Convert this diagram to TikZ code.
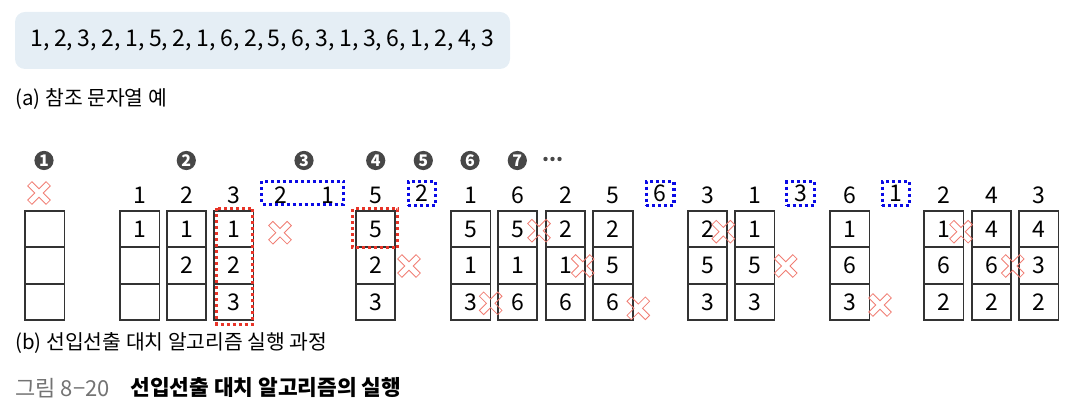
\documentclass[tikz,border=0pt]{standalone}
\usepackage{fontspec}
\setmainfont{Noto Sans CJK KR}
\definecolor{seqbg}{RGB}{229,238,245}
\definecolor{dotred}{RGB}{232,52,40}
\definecolor{dotblue}{RGB}{10,10,230}
\definecolor{xpink}{RGB}{240,125,115}
\begin{document}
\begin{tikzpicture}[x=0.5pt,y=-0.5pt,
	cell/.style={draw=black!80,line width=0.9pt,minimum width=19.75pt,minimum height=18.2pt,inner sep=0pt,font=\fontsize{11.5}{11.5}\selectfont},
	ref/.style={inner sep=0pt,font=\fontsize{11.5}{11.5}\selectfont},
	stepno/.style={circle,fill=black!72,text=white,minimum size=9.6pt,inner sep=0pt,font=\fontsize{8}{8}\selectfont\bfseries},
	redbox/.style={draw=dotred,line width=1.6pt,dash pattern=on 1.5pt off 1.5pt},
	bluebox/.style={draw=dotblue,line width=1.6pt,dash pattern=on 1.5pt off 1.5pt},
	xline/.style={draw=xpink,line width=0.4pt,line join=miter},
	crossout/.pic={\draw[xline,rotate=45] (-3,-13) -- (3,-13) -- (3,-3) -- (13,-3) -- (13,3) -- (3,3)
		-- (3,13) -- (-3,13) -- (-3,3) -- (-13,3) -- (-13,-3) -- (-3,-3) -- cycle;},
	caption/.style={anchor=west,inner sep=0pt,font=\fontsize{10.2}{10.2}\selectfont}]
\useasboundingbox (0,0) rectangle (1072,410);
\node[fill=seqbg,rounded corners=5pt,minimum width=247.5pt,minimum height=28.5pt,
	font=\fontsize{11.5}{11.5}\selectfont] (seq) at (262.5,40.5)
	{\spaceskip=2.3pt\relax 1, 2, 3, 2, 1, 5, 2, 1, 6, 2, 5, 6, 3, 1, 3, 6, 1, 2, 4, 3};
\node[caption] (capa) at (15,99) {(a) 참조 문자열 예};
\foreach \n/\x/\lab/\a/\b/\c in {1/25/{}/{}/{}/{},2/120/1/1/{}/{},3/166.7/2/1/2/{},4/214/3/1/2/3,
	5/355.7/5/5/2/3,6/451/1/5/1/3,7/497.7/6/5/1/6,8/545.7/2/2/1/6,9/593.3/5/2/5/6,
	10/687.7/3/2/5/3,11/735/1/1/5/3,12/830/6/1/6/3,13/924/2/1/6/2,14/971.7/4/4/6/2,15/1019/3/4/3/2}
{
	\node[cell] (f\n-1) at (\x+19.75,229.2) {\a};
	\node[cell] (f\n-2) at (\x+19.75,265.6) {\b};
	\node[cell] (f\n-3) at (\x+19.75,302) {\c};
	\node[ref] (r\n) at (\x+19.75,195.5) {\lab};
}
\node[ref] (h3a) at (281,195.5) {2};
\node[ref] (h3b) at (328,195.5) {1};
\draw[bluebox] (261.5,181.5) rectangle (343.5,204.5);
\foreach \n/\x/\lab in {5/422/2,9/660.2/6,11/800.5/3,12/895.9/1}
	\node[ref,bluebox,minimum width=13.8pt,minimum height=11.85pt] (h\n) at (\x,193.3) {\lab};
\draw[redbox] (216.5,208.2) rectangle (252.8,324.2);
\draw[redbox] (352.5,208.8) rectangle (397.5,247.8);
\foreach \n/\x in {1/44,2/186.3,3/304,4/375.7,5/423.3,6/470,7/517.3}
	\node[stepno] (s\n) at (\x,160.5) {\n};
\foreach \x in {545.5,552.5,559.5}
	\fill[black!72] (\x,159) circle[radius=1.1pt];
\foreach \x/\y in {39/193,280/232.7,409/266,490.7/303.3,539/230.7,582.7/266,638.3/308.3,
	723.3/231.7,785.7/266,880/305,961/231.7,1012.7/266}
	\pic at (\x,\y) {crossout};
\node[caption] (capb) at (15,343.5) {(b) 선입선출 대치 알고리즘 실행 과정};
\node[caption,text=black!55,font=\fontsize{11}{11}\selectfont] (fig) at (15,388) {그림 8−20};
\node[caption,font=\fontsize{10.7}{10.7}\selectfont\bfseries] (figt) at (130,388) {선입선출 대치 알고리즘의 실행};
\end{tikzpicture}
\end{document}
